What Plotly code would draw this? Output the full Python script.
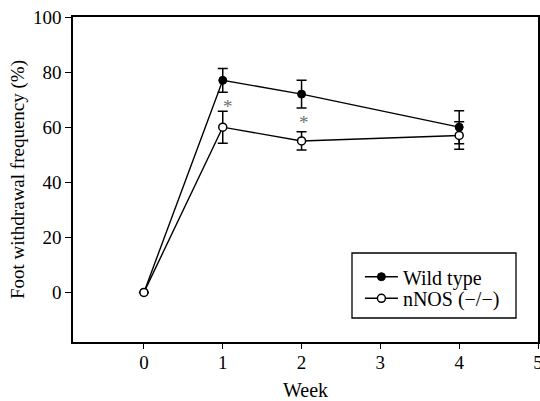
import plotly.graph_objects as go

weeks = [0, 1, 2, 4]
wild_type = [0, 77, 72, 60]
wild_type_err = [None, 4.3, 5, 6]
nnos = [0, 60, 55, 57]
nnos_err = [None, 5.8, 3.3, 5]
star_x = [1.07, 2.03]
star_y = [68.7, 62.9]
x_ticks = [0, 1, 2, 3, 4, 5]
y_ticks = [0, 20, 40, 60, 80, 100]

FONT = "Liberation Serif"
fig = go.Figure()
fig.add_trace(go.Scatter(
    x=weeks, y=wild_type, name="Wild type", mode="lines+markers", legend="legend",
    line=dict(color="black", width=1.4),
    marker=dict(symbol="circle", size=8, color="black", line=dict(color="black", width=1)),
    error_y=dict(type="data", array=wild_type_err, visible=True, color="black", thickness=1.5, width=5),
))
fig.add_trace(go.Scatter(
    x=weeks, y=nnos, name="nNOS (−/−)", mode="lines+markers", legend="legend2",
    line=dict(color="black", width=1.4),
    marker=dict(symbol="circle", size=8, color="white", line=dict(color="black", width=1.5)),
    error_y=dict(type="data", array=nnos_err, visible=True, color="black", thickness=1.5, width=5),
))
for sx, sy in zip(star_x, star_y):
    fig.add_annotation(x=sx, y=sy, text="*", showarrow=False, yshift=-3,
                       font=dict(family=FONT, size=19, color="#707070"))

leg_common = dict(x=0.617, xanchor="left", yanchor="middle", borderwidth=0,
                  bgcolor="rgba(0,0,0,0)", itemwidth=33,
                  font=dict(family=FONT, size=20, color="black"))
fig.update_layout(
    width=540, height=401,
    margin=dict(l=73, r=2, t=17, b=59),
    paper_bgcolor="white", plot_bgcolor="white",
    font=dict(family=FONT, size=19, color="black"),
    showlegend=True,
    legend=dict(y=0.2009, **leg_common),
    legend2=dict(y=0.1345, **leg_common),
)
# legend frame
fig.add_shape(type="rect", xref="paper", yref="paper", x0=0.6, x1=0.9527, y0=0.0738, y1=0.2738,
              line=dict(color="black", width=1.3), layer="below")
fig.update_xaxes(range=[-0.9, 5], tickvals=x_ticks, ticks="outside", ticklen=5,
                 tickwidth=1.3, tickcolor="black", showline=True, linecolor="black",
                 linewidth=1.5, mirror=True, showgrid=False, zeroline=False,
                 automargin=False, ticklabeloverflow="allow", ticklabelstandoff=-3,
                 tickfont=dict(size=19),
                 title=dict(text="Week", standoff=11, font=dict(size=20)))
fig.update_yaxes(range=[-18, 100], tickvals=y_ticks, ticks="outside", ticklen=6,
                 tickwidth=1.3, tickcolor="black", showline=True, linecolor="black",
                 linewidth=1.5, mirror=True, showgrid=False, zeroline=False,
                 automargin=False, tickfont=dict(size=19),
                 title=dict(text="Foot withdrawal frequency (%)", standoff=3, font=dict(size=19)))
fig.write_html("out.html", config={"displayModeBar": False},
               post_script="document.body.style.margin='0';document.body.style.padding='0';document.body.style.overflow='hidden';")
